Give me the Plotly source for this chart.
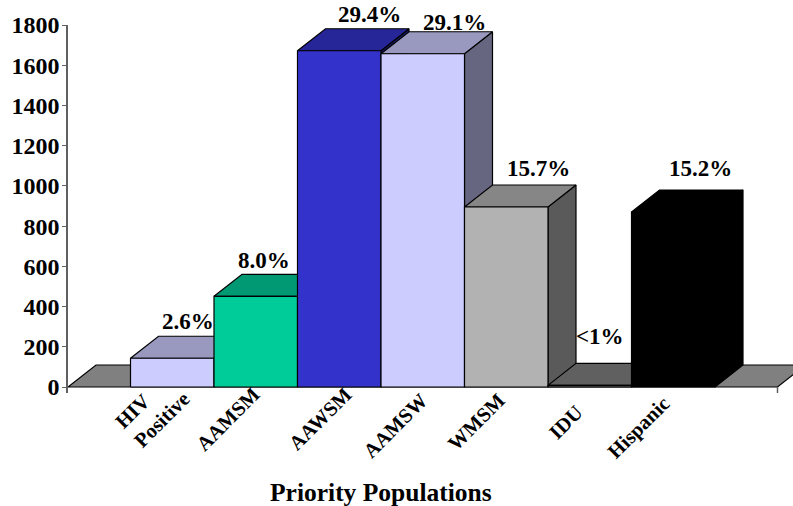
import plotly.graph_objects as go

categories = ["HIV<br>Positive", "AAMSM", "AAWSM", "AAMSW", "WMSM", "IDU", "Hispanic"]
values = [143, 451, 1672, 1657, 895, 8, 870]
percent_labels = ["2.6%", "8.0%", "29.4%", "29.1%", "15.7%", "<1%", "15.2%"]
axis_title = "Priority Populations"
y_ticks = [0, 200, 400, 600, 800, 1000, 1200, 1400, 1600, 1800]

front_colors = ["#CCCCFF", "#00CC99", "#3333CC", "#CCCCFF", "#B2B2B2", "#666666", "#000000"]
top_colors = ["#9999BF", "#009973", "#262699", "#9999BF", "#868686", "#606060", "#000000"]
side_colors = ["#666680", "#00664C", "#191966", "#666680", "#5A5A5A", "#333333", "#000000"]

# Layout in pixels of the 793x506 page
W, H = 793, 506
PLOT_L, PLOT_R, Y0_PX, Y1800_PX, BOTTOM_PX = 68, 793, 387, 25, 393
BAR_PX = 83.5
DEPTH_X_PX, DEPTH_Y_PX = 28, 22
PX_PER_UNIT = (Y0_PX - Y1800_PX) / 1800
GAP = 62.5 / BAR_PX
DX = DEPTH_X_PX / BAR_PX
DY = DEPTH_Y_PX / PX_PER_UNIT
AXIS_END = GAP * 2 + len(values)


def y_of(px):
    return (Y0_PX - px) / PX_PER_UNIT


def paper_x(px):
    return (px - PLOT_L) / (PLOT_R - PLOT_L)


def paper_y(px):
    return (BOTTOM_PX - px) / (BOTTOM_PX - Y1800_PX)


def poly(xs, ys, color, line_color="#000000"):
    return go.Scatter(x=xs + xs[:1], y=ys + ys[:1], mode="lines", fill="toself",
                      fillcolor=color, line=dict(color=line_color, width=1.2),
                      hoverinfo="skip", showlegend=False)


fig = go.Figure()
# floor
fig.add_trace(poly([0, AXIS_END, AXIS_END + DX, DX], [0, 0, DY, DY], "#808080"))
# right end tick
fig.add_trace(go.Scatter(x=[AXIS_END, AXIS_END], y=[0, y_of(BOTTOM_PX)], mode="lines",
                         line=dict(color="#606060", width=1.5), hoverinfo="skip", showlegend=False))
# bars, painted left to right
for i, v in enumerate(values):
    x0, x1 = GAP + i, GAP + i + 1
    fig.add_trace(poly([x1, x1 + DX, x1 + DX, x1], [0, DY, v + DY, v], side_colors[i]))
    fig.add_trace(poly([x0, x0 + DX, x1 + DX, x1], [v, v + DY, v + DY, v], top_colors[i]))
    fig.add_trace(poly([x0, x1, x1, x0], [0, 0, v, v], front_colors[i]))

label_font = dict(family="Liberation Serif", size=23, color="#000000", weight="bold")
cat_font = dict(family="Liberation Serif", size=20.5, color="#000000", weight="bold")

pct_pos = [(188, 321.5), (264, 260.5), (369.5, 14.5), (454, 22), (538.5, 168), (600, 336.5), (700, 168)]
cat_pos = [(152, 410), (228, 419), (320, 419), (395, 426), (476, 422), (566, 422), (638, 428)]

annotations = []
for text, (px, py) in zip(percent_labels, pct_pos):
    annotations.append(dict(x=paper_x(px), y=paper_y(py), xref="paper", yref="paper",
                            text=text.replace("<", "&lt;"),
                            showarrow=False, font=label_font, xanchor="center", yanchor="middle"))
for text, (px, py) in zip(categories, cat_pos):
    annotations.append(dict(x=paper_x(px), y=paper_y(py), xref="paper", yref="paper", text=text, align="left",
                            textangle=-45, showarrow=False, font=cat_font,
                            xanchor="center", yanchor="middle"))
annotations.append(dict(x=paper_x(381), y=paper_y(492), xref="paper", yref="paper", text=axis_title, showarrow=False,
                        font=dict(family="Liberation Serif", size=25.5, color="#000000", weight="bold"),
                        xanchor="center", yanchor="middle"))

fig.update_layout(
    width=W, height=H, autosize=False,
    margin=dict(l=PLOT_L, r=W - PLOT_R, t=Y1800_PX, b=H - BOTTOM_PX, pad=0),
    paper_bgcolor="#FFFFFF", plot_bgcolor="#FFFFFF", showlegend=False,
    annotations=annotations,
    xaxis=dict(range=[0, (PLOT_R - PLOT_L) / BAR_PX], visible=False, fixedrange=True),
    yaxis=dict(range=[y_of(BOTTOM_PX), 1800], tickmode="array", tickvals=y_ticks,
               ticks="outside", ticklen=4, tickcolor="#606060", tickwidth=1.2,
               ticklabelstandoff=-2,
               showline=True, linecolor="#606060", linewidth=1.5,
               showgrid=False, zeroline=False, fixedrange=True,
               tickfont=dict(family="Liberation Serif", size=24, color="#000000", weight="bold")),
)
fig.write_html("out.html", config={"displayModeBar": False},
               post_script="document.body.style.margin='0';document.body.style.overflow='hidden';")
